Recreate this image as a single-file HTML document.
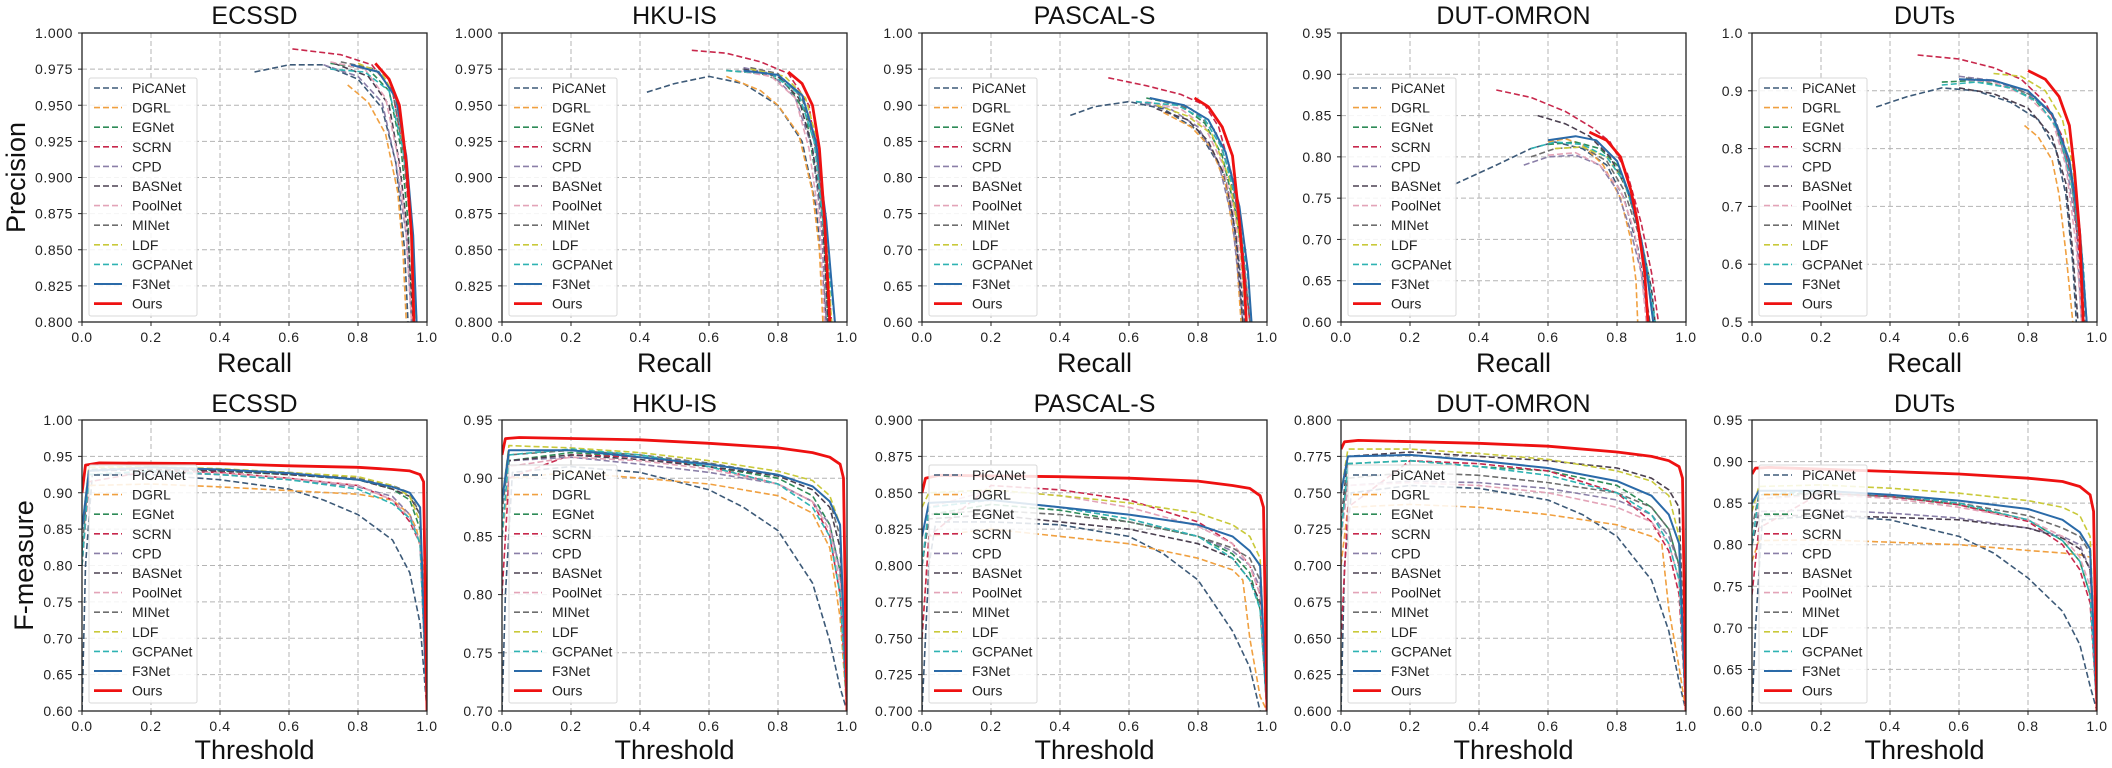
<!DOCTYPE html>
<html><head><meta charset="utf-8">
<style>
html,body{margin:0;padding:0;background:#fff;}
svg{display:block;font-family:"Liberation Sans",Arial,sans-serif;}
</style></head>
<body>
<svg id="fig" width="2112" height="768" viewBox="0 0 2112 768" xmlns="http://www.w3.org/2000/svg"></svg>
<script>
// ---- data ----
const seriesNames = ["PiCANet","DGRL","EGNet","SCRN","CPD","BASNet","PoolNet","MINet","LDF","GCPANet","F3Net","Ours"];
const datasetNames = ["ECSSD","HKU-IS","PASCAL-S","DUT-OMRON","DUTs"];
const prYTicks = [
 [0.800,0.825,0.850,0.875,0.900,0.925,0.950,0.975,1.000],
 [0.800,0.825,0.850,0.875,0.900,0.925,0.950,0.975,1.000],
 [0.60,0.65,0.70,0.75,0.80,0.85,0.90,0.95,1.00],
 [0.60,0.65,0.70,0.75,0.80,0.85,0.90,0.95],
 [0.5,0.6,0.7,0.8,0.9,1.0]];
const prYDecimals = [3,3,2,2,1];
const fmYTicks = [
 [0.60,0.65,0.70,0.75,0.80,0.85,0.90,0.95,1.00],
 [0.70,0.75,0.80,0.85,0.90,0.95],
 [0.700,0.725,0.750,0.775,0.800,0.825,0.850,0.875,0.900],
 [0.600,0.625,0.650,0.675,0.700,0.725,0.750,0.775,0.800],
 [0.60,0.65,0.70,0.75,0.80,0.85,0.90,0.95]];
const fmYDecimals = [2,2,3,3,2];
const xTicks = [0.0,0.2,0.4,0.6,0.8,1.0];

const prEcssd = [
 [.5,.973,.6,.978,.7,.978,.8,.968,.87,.948,.91,.91,.935,.85,.945,.8],
 [.77,.964,.83,.952,.88,.93,.915,.89,.93,.85,.94,.8],
 [.72,.979,.83,.975,.89,.96,.925,.92,.945,.87,.955,.8],
 [.61,.989,.75,.985,.84,.978,.9,.96,.93,.92,.955,.86,.97,.8],
 [.7,.978,.8,.97,.87,.952,.91,.91,.94,.86,.955,.8],
 [.73,.979,.83,.97,.89,.95,.92,.91,.945,.86,.96,.8],
 [.72,.98,.82,.975,.88,.955,.915,.915,.94,.86,.955,.8],
 [.75,.98,.85,.975,.9,.96,.93,.92,.955,.87,.97,.8],
 [.8,.979,.87,.972,.91,.955,.94,.91,.955,.86,.965,.8],
 [.72,.975,.82,.973,.89,.96,.93,.92,.955,.87,.97,.8],
 [.78,.978,.86,.973,.91,.955,.94,.915,.96,.86,.97,.8],
 [.85,.979,.89,.968,.92,.95,.94,.91,.955,.86,.962,.8]];
const prHku = [
 [.42,.959,.5,.965,.6,.97,.7,.965,.8,.95,.87,.925,.91,.88,.93,.83,.94,.8],
 [.65,.97,.75,.96,.8,.95,.86,.93,.9,.89,.92,.85,.93,.8],
 [.65,.974,.75,.972,.82,.966,.88,.945,.91,.9,.935,.85,.945,.8],
 [.55,.988,.65,.986,.75,.98,.83,.972,.89,.95,.92,.9,.94,.85,.955,.8],
 [.7,.976,.78,.972,.85,.955,.9,.92,.925,.87,.94,.8],
 [.7,.975,.8,.97,.86,.955,.9,.92,.93,.87,.945,.8],
 [.68,.974,.78,.97,.85,.955,.89,.92,.92,.87,.935,.8],
 [.72,.976,.8,.972,.87,.955,.91,.92,.935,.86,.95,.8],
 [.72,.975,.82,.97,.88,.955,.92,.92,.94,.86,.955,.8],
 [.65,.974,.78,.972,.86,.958,.905,.925,.93,.87,.965,.8],
 [.7,.974,.8,.971,.87,.957,.91,.925,.94,.87,.965,.8],
 [.83,.973,.87,.965,.9,.95,.92,.92,.935,.87,.95,.8]];
const prPascal = [
 [.43,.886,.5,.898,.6,.905,.7,.895,.8,.865,.87,.81,.9,.75,.92,.68,.935,.6],
 [.7,.89,.78,.87,.84,.84,.88,.79,.91,.7,.925,.6],
 [.65,.91,.75,.9,.82,.875,.87,.83,.91,.75,.94,.65,.95,.6],
 [.54,.938,.65,.927,.75,.915,.82,.9,.86,.87,.9,.8,.93,.7,.95,.6],
 [.62,.905,.72,.895,.8,.87,.86,.82,.9,.74,.93,.6],
 [.68,.895,.77,.88,.83,.85,.88,.8,.91,.72,.93,.6],
 [.65,.905,.75,.895,.82,.87,.87,.82,.91,.74,.94,.6],
 [.7,.905,.78,.895,.85,.865,.89,.81,.925,.72,.95,.6],
 [.68,.9,.77,.885,.84,.86,.89,.8,.92,.72,.94,.6],
 [.62,.905,.74,.9,.82,.88,.87,.84,.91,.77,.945,.66,.955,.6],
 [.66,.91,.76,.9,.83,.88,.88,.835,.92,.76,.945,.67,.955,.6],
 [.79,.91,.83,.898,.87,.87,.9,.83,.92,.74,.935,.65,.94,.6]];
const prOmron = [
 [.33,.767,.45,.79,.55,.81,.62,.818,.7,.81,.77,.79,.82,.75,.86,.69,.885,.63,.895,.6],
 [.6,.818,.65,.822,.7,.815,.76,.79,.81,.75,.84,.7,.855,.65,.86,.6],
 [.6,.815,.68,.818,.75,.81,.8,.79,.84,.75,.87,.7,.89,.65,.905,.6],
 [.45,.881,.55,.872,.65,.855,.73,.835,.78,.818,.83,.78,.87,.72,.9,.66,.92,.6],
 [.53,.79,.6,.8,.68,.802,.75,.79,.8,.76,.84,.71,.87,.66,.89,.6],
 [.57,.85,.65,.84,.72,.825,.78,.8,.83,.76,.87,.7,.9,.64,.91,.6],
 [.6,.802,.68,.805,.75,.79,.81,.76,.85,.71,.87,.66,.885,.6],
 [.55,.8,.62,.81,.7,.812,.77,.795,.82,.76,.86,.71,.89,.65,.905,.6],
 [.62,.81,.7,.812,.77,.8,.82,.77,.86,.72,.89,.66,.905,.6],
 [.55,.81,.62,.818,.7,.815,.77,.8,.82,.77,.86,.72,.89,.66,.91,.6],
 [.6,.82,.68,.825,.74,.82,.8,.795,.84,.75,.87,.7,.89,.65,.905,.6],
 [.72,.83,.77,.82,.81,.8,.84,.76,.86,.72,.88,.66,.89,.6]];
const prDuts = [
 [.36,.872,.45,.89,.55,.905,.65,.9,.75,.88,.83,.85,.88,.8,.91,.72,.93,.6,.94,.5],
 [.79,.84,.83,.82,.87,.78,.89,.72,.91,.62,.93,.5],
 [.55,.915,.65,.918,.75,.905,.82,.885,.88,.84,.92,.76,.95,.65,.97,.5],
 [.48,.962,.6,.955,.7,.94,.78,.92,.85,.88,.9,.82,.93,.73,.95,.6,.96,.5],
 [.6,.925,.7,.918,.8,.895,.87,.86,.91,.78,.94,.66,.955,.5],
 [.6,.905,.7,.895,.8,.87,.87,.82,.91,.74,.93,.62,.945,.5],
 [.6,.92,.7,.915,.8,.89,.87,.85,.91,.77,.94,.63,.955,.5],
 [.62,.922,.72,.915,.82,.89,.88,.85,.92,.77,.95,.63,.965,.5],
 [.7,.93,.78,.925,.85,.9,.9,.85,.93,.77,.955,.63,.97,.5],
 [.55,.91,.65,.915,.75,.905,.83,.88,.89,.83,.93,.73,.96,.6,.97,.5],
 [.6,.92,.7,.918,.8,.9,.87,.86,.92,.78,.95,.66,.97,.5],
 [.8,.935,.85,.92,.89,.89,.92,.84,.935,.76,.95,.65,.96,.5]];

const fmEcssd = [
 [0,.6,.01,.8,.03,.925,.2,.925,.4,.918,.6,.905,.7,.89,.8,.87,.9,.835,.95,.79,.98,.72,1,.6],
 [0,.85,.02,.91,.2,.912,.4,.908,.6,.903,.8,.898,.9,.89,.95,.87,.97,.85,.99,.8,1,.6],
 [0,.8,.02,.932,.2,.935,.4,.93,.6,.925,.8,.918,.9,.905,.95,.89,.98,.85,1,.6],
 [0,.8,.02,.915,.2,.93,.4,.928,.6,.92,.8,.91,.9,.89,.95,.86,.98,.83,1,.6],
 [0,.85,.02,.925,.2,.928,.4,.925,.6,.918,.8,.908,.9,.895,.95,.87,.98,.83,1,.6],
 [0,.8,.02,.93,.2,.932,.4,.93,.6,.925,.8,.918,.9,.905,.95,.895,.98,.87,1,.6],
 [0,.8,.02,.925,.2,.93,.4,.927,.6,.92,.8,.91,.9,.89,.95,.865,.98,.83,1,.6],
 [0,.82,.02,.93,.2,.935,.4,.932,.6,.928,.8,.92,.9,.91,.95,.9,.98,.87,1,.6],
 [0,.85,.02,.935,.2,.936,.4,.933,.6,.928,.8,.922,.9,.91,.95,.895,.98,.86,1,.6],
 [0,.8,.02,.925,.2,.93,.4,.925,.6,.918,.8,.905,.9,.885,.95,.865,.98,.83,1,.6],
 [0,.85,.02,.93,.2,.935,.4,.932,.6,.927,.8,.918,.9,.908,.95,.9,.98,.88,1,.6],
 [0,.9,.01,.938,.05,.941,.4,.94,.6,.937,.8,.935,.9,.932,.95,.93,.98,.925,.99,.915,1,.6]];
const fmHku = [
 [0,.7,.01,.8,.03,.905,.2,.91,.4,.905,.6,.89,.7,.875,.8,.855,.9,.81,.95,.76,.98,.72,1,.7],
 [0,.85,.02,.9,.2,.905,.4,.9,.6,.895,.8,.885,.9,.87,.95,.84,.98,.78,1,.7],
 [0,.85,.02,.915,.2,.922,.4,.918,.6,.91,.8,.9,.9,.885,.95,.86,.98,.82,1,.7],
 [0,.8,.02,.9,.2,.92,.4,.918,.6,.91,.8,.895,.9,.88,.95,.85,.98,.8,1,.7],
 [0,.85,.02,.915,.2,.918,.4,.912,.6,.905,.8,.895,.9,.88,.95,.86,.98,.82,1,.7],
 [0,.85,.02,.915,.2,.92,.4,.916,.6,.91,.8,.902,.9,.89,.95,.875,.98,.84,1,.7],
 [0,.85,.02,.91,.2,.918,.4,.915,.6,.908,.8,.895,.9,.88,.95,.855,.98,.81,1,.7],
 [0,.87,.02,.92,.2,.924,.4,.92,.6,.913,.8,.903,.9,.893,.95,.88,.98,.85,1,.7],
 [0,.88,.02,.928,.2,.926,.4,.922,.6,.915,.8,.906,.9,.898,.95,.885,.98,.86,1,.7],
 [0,.85,.02,.92,.2,.925,.4,.92,.6,.91,.8,.895,.9,.875,.95,.85,.98,.8,1,.7],
 [0,.88,.02,.924,.2,.924,.4,.918,.6,.912,.8,.903,.9,.893,.95,.88,.98,.86,1,.7],
 [0,.92,.01,.934,.05,.935,.4,.933,.6,.93,.8,.926,.9,.922,.95,.918,.98,.912,.99,.9,1,.7]];
const fmPascal = [
 [0,.7,.02,.8,.04,.83,.2,.83,.4,.828,.6,.82,.7,.808,.8,.79,.9,.755,.95,.73,.98,.7,1,.69],
 [0,.75,.02,.82,.2,.825,.4,.82,.6,.815,.8,.805,.9,.797,.93,.79,.95,.75,.98,.71,1,.7],
 [0,.8,.02,.835,.2,.842,.4,.838,.6,.83,.8,.82,.9,.808,.95,.795,.98,.77,1,.7],
 [0,.75,.02,.82,.2,.855,.4,.852,.6,.845,.8,.83,.9,.815,.95,.8,.98,.78,1,.7],
 [0,.8,.02,.84,.2,.845,.4,.84,.6,.832,.8,.82,.9,.81,.95,.8,.98,.785,1,.7],
 [0,.8,.02,.832,.2,.835,.4,.83,.6,.825,.8,.815,.9,.805,.95,.79,.98,.775,1,.7],
 [0,.8,.02,.84,.2,.852,.4,.848,.6,.84,.8,.827,.9,.815,.95,.8,.98,.78,1,.7],
 [0,.8,.02,.835,.2,.838,.4,.835,.6,.83,.8,.82,.9,.812,.95,.805,.98,.79,1,.7],
 [0,.84,.02,.85,.2,.852,.4,.848,.6,.843,.8,.836,.9,.828,.95,.82,.98,.805,1,.7],
 [0,.8,.02,.84,.2,.845,.4,.84,.6,.832,.8,.82,.9,.805,.95,.79,.98,.77,1,.7],
 [0,.82,.02,.843,.2,.845,.4,.84,.6,.835,.8,.828,.9,.82,.95,.81,.98,.8,1,.7],
 [0,.85,.01,.86,.05,.862,.4,.861,.6,.86,.8,.858,.9,.855,.95,.853,.98,.848,.99,.84,1,.7]];
const fmOmron = [
 [0,.6,.01,.7,.03,.75,.2,.755,.4,.753,.6,.745,.7,.735,.8,.72,.9,.69,.95,.655,.98,.62,1,.6],
 [0,.7,.02,.74,.2,.742,.4,.74,.6,.735,.8,.728,.9,.72,.93,.715,.95,.67,.98,.63,1,.6],
 [0,.72,.02,.77,.2,.772,.4,.768,.6,.765,.8,.755,.9,.74,.95,.725,.98,.7,1,.6],
 [0,.65,.02,.74,.2,.772,.4,.77,.6,.765,.8,.75,.9,.73,.95,.71,.98,.68,1,.6],
 [0,.72,.02,.755,.2,.758,.4,.757,.6,.753,.8,.745,.9,.735,.95,.72,.98,.7,1,.6],
 [0,.73,.02,.775,.2,.778,.4,.775,.6,.772,.8,.767,.9,.76,.95,.752,.98,.74,1,.6],
 [0,.72,.02,.755,.2,.757,.4,.755,.6,.75,.8,.74,.9,.73,.95,.715,.98,.69,1,.6],
 [0,.73,.02,.76,.2,.764,.4,.762,.6,.757,.8,.75,.9,.74,.95,.725,.98,.7,1,.6],
 [0,.75,.02,.78,.2,.78,.4,.777,.6,.773,.8,.765,.9,.758,.95,.748,.98,.72,1,.6],
 [0,.72,.02,.77,.2,.772,.4,.768,.6,.762,.8,.75,.9,.735,.95,.715,.98,.69,1,.6],
 [0,.75,.02,.775,.2,.776,.4,.772,.6,.767,.8,.758,.9,.748,.95,.735,.98,.715,1,.6],
 [0,.78,.01,.785,.05,.786,.4,.784,.6,.782,.8,.778,.9,.775,.95,.772,.98,.768,.99,.76,1,.6]];
const fmDuts = [
 [0,.6,.01,.7,.03,.83,.2,.835,.4,.83,.6,.81,.7,.79,.8,.76,.9,.72,.95,.68,.98,.63,1,.6],
 [0,.78,.02,.805,.2,.806,.4,.803,.6,.8,.8,.793,.9,.79,.95,.788,.98,.785,.99,.7,1,.6],
 [0,.8,.02,.855,.2,.862,.4,.858,.6,.848,.8,.83,.9,.805,.95,.78,.98,.74,1,.6],
 [0,.74,.02,.82,.2,.862,.4,.858,.6,.848,.8,.828,.9,.8,.95,.77,.98,.73,1,.6],
 [0,.8,.02,.84,.2,.842,.4,.838,.6,.832,.8,.82,.9,.81,.95,.8,.98,.77,1,.6],
 [0,.8,.02,.835,.2,.835,.4,.833,.6,.83,.8,.82,.9,.808,.95,.795,.98,.77,1,.6],
 [0,.8,.02,.855,.2,.86,.4,.856,.6,.845,.8,.83,.9,.81,.95,.785,.98,.75,1,.6],
 [0,.82,.02,.86,.2,.862,.4,.858,.6,.85,.8,.835,.9,.82,.95,.81,.98,.79,1,.6],
 [0,.84,.02,.87,.2,.872,.4,.868,.6,.862,.8,.853,.9,.845,.95,.835,.98,.81,1,.6],
 [0,.8,.02,.86,.2,.865,.4,.86,.6,.85,.8,.83,.9,.805,.95,.78,.98,.74,1,.6],
 [0,.85,.02,.865,.2,.865,.4,.86,.6,.853,.8,.843,.9,.83,.95,.815,.98,.795,1,.6],
 [0,.885,.01,.892,.05,.893,.4,.888,.6,.885,.8,.88,.9,.876,.95,.87,.98,.86,.99,.84,1,.6]];

const prPanels = [prEcssd, prHku, prPascal, prOmron, prDuts];
const fmPanels = [fmEcssd, fmHku, fmPascal, fmOmron, fmDuts];

// ---- styling (not data) ----
const colors = ["#3d5a78","#f0a040","#2e8b57","#c8284c","#8a7fa8","#4b4050","#e3a4b8","#6e6e6e","#c9c93a","#2fb3b3","#2a6aa8","#ee1111"];
const widths = [1.6,1.6,1.6,1.6,1.6,1.6,1.6,1.6,1.6,1.6,2,2.8];
const dashes = ["6,3","6,3","6,3","6,3","6,3","6,3","6,3","6,3","6,3","6,3","",""];
const panelLeft = [82,502,922,1341,1752];
const PW = 345;
const rows = [{top:33,bottom:322,panels:prPanels,ticks:prYTicks,dec:prYDecimals,xlabel:"Recall",ylabel:"Precision",titleY:15,tickY:337,xlabY:362,ylabX:16,kind:"pr"},
              {top:420,bottom:711,panels:fmPanels,ticks:fmYTicks,dec:fmYDecimals,xlabel:"Threshold",ylabel:"F-measure",titleY:403,tickY:726,xlabY:749,ylabX:24,kind:"fm"}];

const NS = "http://www.w3.org/2000/svg";
const svg = document.getElementById("fig");
function mk(tag, attrs, parent){
  const e = document.createElementNS(NS, tag);
  for (const k in attrs) e.setAttribute(k, attrs[k]);
  (parent||svg).appendChild(e);
  return e;
}
const defs = mk("defs",{});

rows.forEach((row, ri) => {
  for (let p = 0; p < 5; p++) {
    const L = panelLeft[p], R = L + PW, T = row.top, B = row.bottom;
    const ticks = row.ticks[p];
    const y0 = ticks[0], y1 = ticks[ticks.length-1];
    const sx = v => L + v * PW;
    const sy = v => B - (v - y0) / (y1 - y0) * (B - T);
    const g = mk("g",{});
    
    

    const cp = mk("clipPath",{id:"clip"+ri+"_"+p}, defs);
    mk("rect",{x:L,y:T,width:PW,height:B-T},cp);

    // grid
    xTicks.forEach(v => {
      const l = mk("line",{x1:sx(v),x2:sx(v),y1:T,y2:B,stroke:"#b4b4b4","stroke-width":1,"stroke-dasharray":"5,3"},g);
      
      
    });
    ticks.forEach(v => {
      const l = mk("line",{x1:L,x2:R,y1:sy(v),y2:sy(v),stroke:"#b4b4b4","stroke-width":1,"stroke-dasharray":"5,3"},g);
      
      
    });

    // series
    const sg = mk("g",{"clip-path":"url(#clip"+ri+"_"+p+")"},g);
    row.panels[p].forEach((pts, si) => {
      let d = "";
      for (let i = 0; i < pts.length; i += 2) d += (i ? "L" : "M") + sx(pts[i]).toFixed(1) + "," + sy(pts[i+1]).toFixed(1);
      const path = mk("path",{d:d,fill:"none",stroke:colors[si],"stroke-width":widths[si],"stroke-linejoin":"round"},sg);
      if (dashes[si]) path.setAttribute("stroke-dasharray", dashes[si]);
      
      
    });

    // frame
    const fr = mk("rect",{x:L,y:T,width:PW,height:B-T,fill:"none",stroke:"#222","stroke-width":1.3},g);
    
    

    // ticks
    xTicks.forEach(v => {
      mk("line",{x1:sx(v),x2:sx(v),y1:B,y2:B+4,stroke:"#222","stroke-width":1},g);
      const t = mk("text",{x:sx(v),y:row.tickY+5,"text-anchor":"middle","font-size":14,fill:"#222","letter-spacing":"0.6"},g);
      t.textContent = v.toFixed(1);
      
      
    });
    ticks.forEach(v => {
      mk("line",{x1:L-4,x2:L,y1:sy(v),y2:sy(v),stroke:"#222","stroke-width":1},g);
      const t = mk("text",{x:L-9,y:sy(v)+5,"text-anchor":"end","font-size":14,fill:"#222","letter-spacing":"0.6"},g);
      t.textContent = v.toFixed(row.dec[p]);
      
      
    });

    // title
    const tt = mk("text",{x:L+PW/2,y:row.titleY+9,"text-anchor":"middle","font-size":25,fill:"#111"},g);
    tt.textContent = datasetNames[p];
    
    

    // x label
    const xl = mk("text",{x:L+PW/2,y:row.xlabY+10,"text-anchor":"middle","font-size":27,fill:"#111"},g);
    xl.textContent = row.xlabel;
    
    

    if (p === 0) {
      const cy = (T+B)/2;
      const yl = mk("text",{x:row.ylabX+9,y:cy,"text-anchor":"middle","font-size":27,fill:"#111",transform:"rotate(-90 "+(row.ylabX+9)+" "+cy+")"},g);
      yl.textContent = row.ylabel;
      
      
    }

    // legend
    const lg = mk("g",{},g);
    
    
    const bx = L + 7, by = T + 45;
    mk("rect",{x:bx,y:by,width:108,height:238,fill:"#fff","fill-opacity":0.85,stroke:"#d8d8d8","stroke-width":1,rx:2},lg);
    seriesNames.forEach((n, si) => {
      const ey = by + 10 + si * 19.6;
      const ln = mk("line",{x1:bx+5,x2:bx+33,y1:ey,y2:ey,stroke:colors[si],"stroke-width":widths[si]},lg);
      if (dashes[si]) ln.setAttribute("stroke-dasharray", dashes[si]);
      const tx = mk("text",{x:bx+43,y:ey+5,"font-size":14,fill:"#222"},lg);
      tx.textContent = n;
      
      
    });
  }
});
</script>
</body></html>
